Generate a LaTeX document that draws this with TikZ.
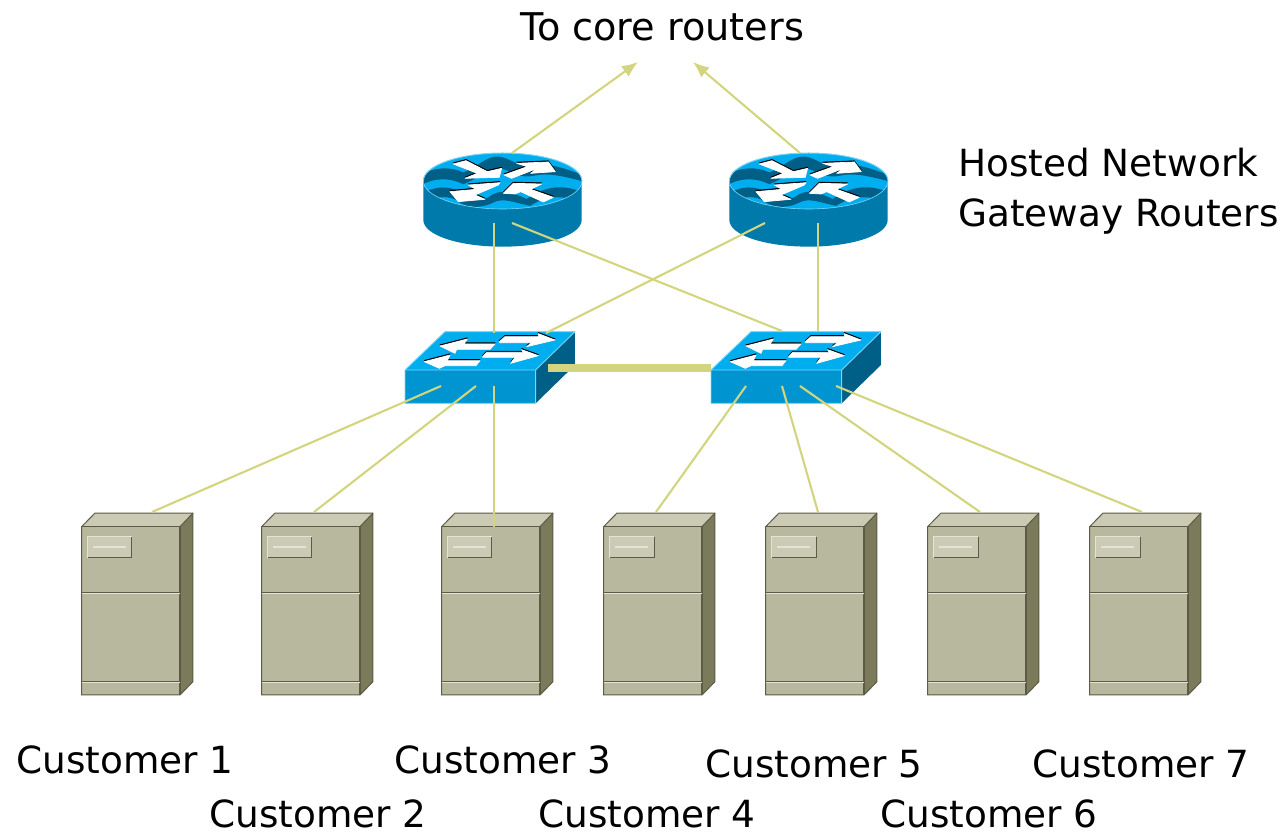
\documentclass[tikz,border=0pt]{standalone}
\usepackage{fontspec}
\setmainfont{DejaVu Sans}
\usetikzlibrary{arrows.meta}
\definecolor{wire}{HTML}{D3D57E}
\definecolor{lblue}{HTML}{00AEEF}
\definecolor{rside}{HTML}{007AAB}
\definecolor{dblue}{HTML}{005F87}
\definecolor{sfront}{HTML}{0095D0}
\definecolor{edgeblue}{HTML}{7AD6F8}
\definecolor{sfill}{HTML}{B8B89E}
\definecolor{stop}{HTML}{CBCBB5}
\definecolor{sside}{HTML}{7B7B5B}
\definecolor{sline}{HTML}{5C5C46}
\definecolor{slight}{HTML}{E4E4D6}
\tikzset{
  wireline/.style={draw=wire,line width=2.1pt},
  uplink/.style={wireline,-{Latex[length=16pt,width=13pt]}},
  trunk/.style={draw=wire,line width=7.5pt},
  lbl/.style={anchor=base west,inner sep=0pt,font=\fontsize{37.4}{40}\selectfont,text=black},
}
\newcommand{\arrowshape}[1]{\filldraw[black,draw=black,line width=0.7pt,line join=round,yshift=1.2pt] #1; \filldraw[white,draw=white,line width=0.7pt,line join=round] #1;}
\newcommand{\routerpic}[1]{%
\begin{scope}[shift={(#1,140)},x=0.3333pt,y=-0.3333pt]
  \fill[rside] (70,123) -- (70,240) .. controls (70,285) and (175,320) .. (308,320) .. controls (440,320) and (545,285) .. (545,240) -- (545,123) -- cycle;
  \fill[lblue] (308,123) ellipse [x radius=238,y radius=84];
  \begin{scope}
    \clip (308,123) ellipse [x radius=238,y radius=84];
    \filldraw[fill=dblue,draw=dblue,line width=1.6pt] (60,108) .. controls (100,85) and (150,80) .. (190,100) .. controls (230,85) and (260,50) .. (295,52) .. controls (330,55) and (350,85) .. (400,78) .. controls (440,70) and (490,85) .. (560,112) -- (560,125) .. controls (490,105) and (440,95) .. (400,105) .. controls (350,115) and (330,85) .. (295,82) .. controls (260,85) and (230,115) .. (190,130) .. controls (150,110) and (100,110) .. (60,135) -- cycle;
    \filldraw[fill=dblue,draw=dblue,line width=1.6pt] (60,168) .. controls (100,140) and (150,135) .. (190,165) .. controls (220,180) and (250,190) .. (280,165) .. controls (310,150) and (340,160) .. (380,180) .. controls (420,150) and (480,125) .. (560,165) -- (560,190) .. controls (480,155) and (430,170) .. (390,195) .. controls (340,185) and (310,170) .. (280,185) .. controls (250,200) and (210,205) .. (180,185) .. controls (150,160) and (100,165) .. (60,195) -- cycle;
  \end{scope}
  \draw[edgeblue,line width=1pt] (70,123) arc[start angle=180,end angle=360,x radius=238,y radius=84];
  \draw[edgeblue,line width=0.6pt] (70,123) arc[start angle=180,end angle=0,x radius=238,y radius=84];
  \arrowshape{(160,72) -- (198,62) -- (262,95) -- (305,85) -- (298,112) -- (195,115) -- (232,100) -- cycle}
  \arrowshape{(312,105) -- (382,80) -- (350,70) -- (445,66) -- (466,95) -- (392,100) -- (412,85) -- (335,115) -- cycle}
  \arrowshape{(150,155) -- (228,148) -- (205,135) -- (300,128) -- (295,135) -- (225,165) -- (255,178) -- (175,185) -- cycle}
  \arrowshape{(310,160) -- (340,130) -- (425,132) -- (392,148) -- (460,172) -- (430,186) -- (362,155) -- (345,162) -- cycle}
\end{scope}}
\newcommand{\switchpic}[1]{%
\begin{scope}[shift={(#1,320)},x=0.3333pt,y=-0.3333pt]
  \fill[sfront] (45,150) rectangle (437,250);
  \fill[lblue] (45,150) -- (165,35) -- (555,35) -- (437,150) -- cycle;
  \fill[dblue] (437,150) -- (555,35) -- (555,135) -- (437,250) -- cycle;
  \draw[edgeblue,line width=0.9pt,line join=round] (437,150) -- (45,150) -- (165,35) -- (555,35) -- (437,150) -- (437,250) -- (45,250) -- (45,150);
  \arrowshape{(150,78) -- (232,57) -- (222,72) -- (315,72) -- (300,88) -- (200,88) -- (195,100) -- cycle}
  \arrowshape{(328,65) -- (345,50) -- (445,50) -- (445,41) -- (495,60) -- (410,80) -- (425,68) -- (328,68) -- cycle}
  \arrowshape{(103,125) -- (180,105) -- (172,122) -- (270,122) -- (258,137) -- (165,137) -- (148,145) -- cycle}
  \arrowshape{(278,110) -- (290,97) -- (400,97) -- (395,89) -- (445,107) -- (362,130) -- (375,112) -- (278,112) -- cycle}
\end{scope}}
\newcommand{\serverpic}[1]{%
\begin{scope}[shift={(#1,505)},x=0.3333pt,y=-0.3333pt]
  \fill[stop] (35,65) -- (75,24) -- (369,24) -- (330,65) -- cycle;
  \fill[sside] (330,65) -- (369,24) -- (369,530) -- (330,570) -- cycle;
  \fill[sfill] (35,65) rectangle (330,570);
  \draw[sline,line width=1pt] (35,65) -- (75,24) -- (369,24) -- (369,530) -- (330,570) -- (35,570) -- cycle;
  \draw[sline,line width=1.6pt] (35,65) -- (330,65) -- (330,570);
  \draw[sline,line width=1pt] (330,65) -- (369,24);
  \draw[sline,line width=1.1pt] (35,262) -- (330,262);
  \draw[slight,line width=1pt] (35,265) -- (330,265);
  \draw[sline,line width=1.1pt] (35,529) -- (330,529);
  \draw[slight,line width=1pt] (35,534) -- (330,534);
  \fill[stop] (53,95) rectangle (186,158);
  \draw[sline,line width=1pt] (186,95) -- (186,158) -- (53,158);
  \draw[slight,line width=0.9pt] (53,158) -- (53,95) -- (186,95);
  \draw[slight,line width=1.3pt] (69,126) -- (168,126);
\end{scope}}
\begin{document}
\begin{tikzpicture}[x=1pt,y=-1pt]
\useasboundingbox (0,0) rectangle (1283,834);
% devices
\routerpic{400}\routerpic{706}
\switchpic{390}\switchpic{696}
\serverpic{70}\serverpic{250}\serverpic{430}\serverpic{592}\serverpic{754}\serverpic{916}\serverpic{1078}
% anchors of the connectors
\coordinate (coreL) at (638,62);
\coordinate (coreR) at (693,62);
\coordinate (rAtop) at (512,153);
\coordinate (rBtop) at (800,153);
\coordinate (rAa) at (494,223);
\coordinate (rAb) at (512,223);
\coordinate (rBa) at (765,223);
\coordinate (rBb) at (818,223);
\coordinate (swAa) at (494,333);
\coordinate (swAb) at (546,333);
\coordinate (swBa) at (782,331);
\coordinate (swBb) at (818,331);
\coordinate (swAr) at (548,368);
\coordinate (swBl) at (711,368);
\coordinate (swAd) at (441,386);
\coordinate (swAe) at (476,386);
\coordinate (swAf) at (494,386);
\coordinate (swBd) at (746,386);
\coordinate (swBe) at (782,386);
\coordinate (swBf) at (800,386);
\coordinate (swBg) at (836,386);
\coordinate (c1) at (152,512);
\coordinate (c2) at (314,512);
\coordinate (c3) at (494,527);
\coordinate (c4) at (656,512);
\coordinate (c5) at (818,512);
\coordinate (c6) at (980,512);
\coordinate (c7) at (1142,512);
% connectors
\draw[uplink] (rAtop) -- (coreL);
\draw[uplink] (rBtop) -- (coreR);
\draw[wireline] (rAa) -- (swAa);
\draw[wireline] (rAb) -- (swBa);
\draw[wireline] (rBa) -- (swAb);
\draw[wireline] (rBb) -- (swBb);
\draw[trunk] (swAr) -- (swBl);
\draw[wireline] (swAd) -- (c1);
\draw[wireline] (swAe) -- (c2);
\draw[wireline] (swAf) -- (c3);
\draw[wireline] (swBd) -- (c4);
\draw[wireline] (swBe) -- (c5);
\draw[wireline] (swBf) -- (c6);
\draw[wireline] (swBg) -- (c7);
% labels
\node[lbl,font=\fontsize{38.2}{40}\selectfont] (core) at (520,41) {To core routers};
\node[lbl] (gw1) at (958,177) {Hosted Network};
\node[lbl] (gw2) at (958,227) {Gateway Routers};
\node[lbl] (l1) at (16,773) {Customer 1};
\node[lbl] (l2) at (209,827) {Customer 2};
\node[lbl] (l3) at (394,773) {Customer 3};
\node[lbl] (l4) at (538,827) {Customer 4};
\node[lbl] (l5) at (705,777) {Customer 5};
\node[lbl] (l6) at (880,827) {Customer 6};
\node[lbl] (l7) at (1032,777) {Customer 7};
\end{tikzpicture}
\end{document}
